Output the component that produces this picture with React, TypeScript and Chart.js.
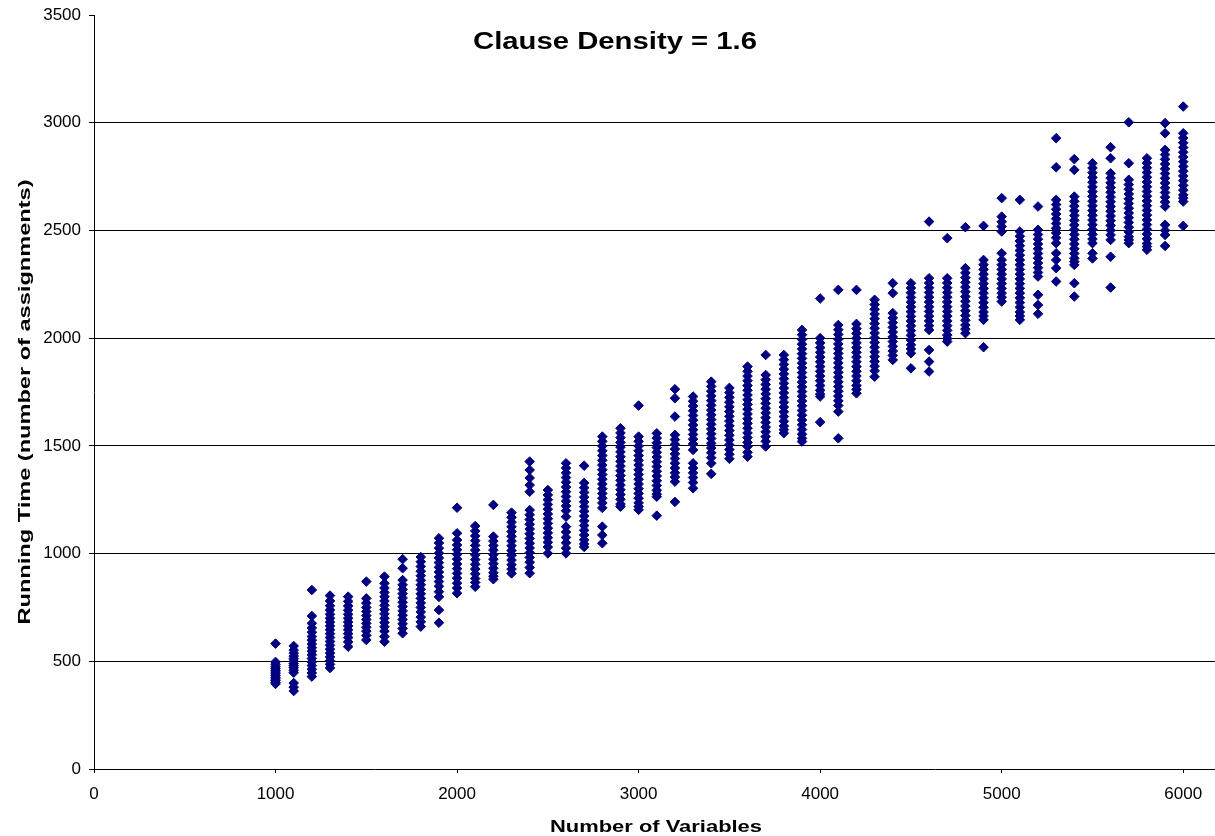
import React, { useEffect, useRef } from "react";
import { Chart, registerables } from "chart.js";

Chart.register(...registerables);

const chartTitle = "Clause Density = 1.6";
const xAxisTitle = "Number of Variables";
const yAxisTitle = "Running Time (number of assignments)";

const xTicks = [0, 1000, 2000, 3000, 4000, 5000, 6000];
const yTicks = [0, 500, 1000, 1500, 2000, 2500, 3000, 3500];

// Running time samples per number of variables
const rt1000 = [582, 497, 486, 475, 466, 458, 450, 442, 434, 426, 418, 410, 402, 395];
const rt1100 = [571, 552, 538, 524, 512, 500, 490, 480, 470, 458, 447, 399, 380, 362];
const rt1200 = [831, 710, 676, 655, 635, 615, 598, 580, 563, 547, 530, 513, 497, 480, 463, 446, 429];
const rt1300 = [805, 780, 758, 738, 718, 700, 682, 664, 646, 628, 610, 592, 574, 556, 538, 520, 503, 486, 469];
const rt1400 = [800, 778, 757, 737, 718, 700, 682, 664, 646, 628, 610, 590, 568];
const rt1500 = [870, 792, 770, 750, 731, 712, 694, 676, 658, 640, 620, 599];
const rt1600 = [893, 862, 840, 820, 800, 780, 760, 740, 720, 700, 680, 660, 640, 615, 591];
const rt1700 = [974, 932, 877, 855, 834, 814, 794, 774, 754, 734, 714, 694, 674, 652, 630];
const rt1800 = [984, 962, 940, 918, 897, 876, 855, 834, 813, 792, 771, 750, 729, 705, 683, 661];
const rt1900 = [1071, 1049, 1025, 1002, 980, 958, 936, 914, 892, 870, 848, 823, 799, 738, 679];
const rt2000 = [1213, 1094, 1063, 1040, 1018, 996, 974, 952, 930, 908, 886, 862, 840, 816];
const rt2100 = [1128, 1105, 1082, 1060, 1038, 1016, 994, 972, 950, 928, 906, 884, 866, 846];
const rt2200 = [1226, 1079, 1058, 1037, 1016, 995, 974, 953, 932, 911, 895, 881];
const rt2300 = [1190, 1168, 1146, 1124, 1102, 1080, 1058, 1036, 1014, 992, 970, 948, 928, 908];
const rt2400 = [1427, 1388, 1351, 1318, 1287, 1202, 1180, 1158, 1136, 1114, 1092, 1070, 1048, 1026, 1004, 982, 960, 935, 909];
const rt2500 = [1295, 1272, 1250, 1228, 1206, 1184, 1162, 1140, 1118, 1096, 1074, 1052, 1030, 1001];
const rt2600 = [1419, 1397, 1375, 1353, 1331, 1309, 1287, 1265, 1243, 1221, 1199, 1171, 1125, 1100, 1075, 1050, 1025, 1001];
const rt2700 = [1408, 1328, 1306, 1284, 1262, 1240, 1218, 1196, 1174, 1152, 1130, 1108, 1086, 1064, 1045, 1031];
const rt2800 = [1543, 1521, 1499, 1477, 1455, 1433, 1411, 1389, 1367, 1345, 1323, 1301, 1279, 1257, 1235, 1212, 1125, 1086, 1048];
const rt2900 = [1582, 1560, 1538, 1516, 1494, 1472, 1450, 1428, 1406, 1384, 1362, 1340, 1318, 1296, 1274, 1252, 1230, 1218];
const rt3000 = [1687, 1543, 1521, 1499, 1477, 1455, 1433, 1411, 1389, 1367, 1345, 1323, 1301, 1279, 1257, 1235, 1218, 1203];
const rt3100 = [1558, 1536, 1514, 1492, 1470, 1448, 1426, 1404, 1382, 1360, 1338, 1316, 1294, 1276, 1264, 1176];
const rt3200 = [1763, 1721, 1636, 1551, 1529, 1507, 1485, 1463, 1441, 1419, 1397, 1375, 1355, 1334, 1240];
const rt3300 = [1729, 1707, 1685, 1663, 1641, 1619, 1597, 1575, 1553, 1531, 1509, 1481, 1419, 1397, 1375, 1353, 1330, 1303];
const rt3400 = [1798, 1776, 1754, 1732, 1710, 1688, 1666, 1644, 1622, 1600, 1578, 1556, 1534, 1512, 1490, 1468, 1445, 1419, 1370];
const rt3500 = [1769, 1747, 1725, 1703, 1681, 1659, 1637, 1615, 1593, 1571, 1549, 1527, 1505, 1483, 1461, 1440];
const rt3600 = [1868, 1846, 1824, 1802, 1780, 1758, 1736, 1714, 1692, 1670, 1648, 1626, 1604, 1582, 1560, 1538, 1516, 1497, 1470, 1450];
const rt3700 = [1922, 1829, 1807, 1785, 1763, 1741, 1719, 1697, 1675, 1653, 1631, 1609, 1587, 1565, 1543, 1521, 1497];
const rt3800 = [1922, 1900, 1878, 1856, 1834, 1812, 1790, 1768, 1746, 1724, 1702, 1680, 1658, 1636, 1614, 1592, 1575, 1559];
const rt3900 = [2038, 2016, 1994, 1972, 1950, 1928, 1906, 1884, 1862, 1840, 1818, 1796, 1774, 1752, 1730, 1708, 1686, 1664, 1642, 1620, 1598, 1576, 1554, 1535, 1520];
const rt4000 = [2184, 2000, 1978, 1956, 1934, 1912, 1890, 1868, 1846, 1824, 1802, 1780, 1758, 1740, 1729, 1610];
const rt4100 = [2224, 2061, 2039, 2017, 1995, 1973, 1951, 1929, 1907, 1885, 1863, 1841, 1819, 1797, 1775, 1753, 1731, 1709, 1687, 1659, 1535];
const rt4200 = [2224, 2066, 2044, 2022, 2000, 1978, 1956, 1934, 1912, 1890, 1868, 1846, 1824, 1802, 1780, 1762, 1744];
const rt4300 = [2178, 2156, 2134, 2112, 2090, 2068, 2046, 2024, 2002, 1980, 1958, 1936, 1914, 1892, 1870, 1848, 1821];
const rt4400 = [2255, 2209, 2116, 2094, 2072, 2050, 2028, 2006, 1984, 1962, 1940, 1920, 1899];
const rt4500 = [2255, 2233, 2211, 2189, 2167, 2145, 2123, 2101, 2079, 2057, 2035, 2013, 1991, 1969, 1950, 1930, 1860];
const rt4600 = [2541, 2278, 2256, 2234, 2212, 2190, 2168, 2146, 2124, 2102, 2080, 2058, 2038, 1945, 1891, 1845];
const rt4700 = [2464, 2278, 2256, 2234, 2212, 2190, 2168, 2146, 2124, 2102, 2080, 2058, 2036, 2014, 1998, 1984];
const rt4800 = [2515, 2325, 2303, 2281, 2259, 2237, 2215, 2193, 2171, 2149, 2127, 2105, 2083, 2061, 2042, 2023];
const rt4900 = [2521, 2363, 2341, 2319, 2297, 2275, 2253, 2231, 2209, 2187, 2165, 2143, 2121, 2103, 2085, 1958];
const rt5000 = [2650, 2564, 2540, 2518, 2495, 2394, 2363, 2341, 2319, 2297, 2275, 2253, 2231, 2209, 2190, 2170];
const rt5100 = [2642, 2495, 2473, 2451, 2429, 2407, 2385, 2363, 2341, 2319, 2297, 2275, 2253, 2231, 2209, 2187, 2165, 2143, 2121, 2103, 2085];
const rt5200 = [2611, 2503, 2481, 2459, 2437, 2415, 2393, 2371, 2349, 2327, 2305, 2286, 2201, 2154, 2113];
const rt5300 = [2928, 2793, 2642, 2620, 2598, 2576, 2554, 2532, 2510, 2488, 2466, 2441, 2394, 2363, 2325, 2263];
const rt5400 = [2831, 2781, 2657, 2635, 2613, 2591, 2569, 2547, 2525, 2503, 2481, 2459, 2437, 2415, 2393, 2371, 2355, 2340, 2255, 2193];
const rt5500 = [2812, 2790, 2768, 2746, 2724, 2702, 2680, 2658, 2636, 2614, 2592, 2570, 2548, 2526, 2504, 2482, 2460, 2441, 2394, 2370];
const rt5600 = [2886, 2835, 2765, 2743, 2721, 2699, 2677, 2655, 2633, 2611, 2589, 2567, 2545, 2523, 2501, 2479, 2456, 2378, 2235];
const rt5700 = [3002, 2812, 2735, 2713, 2691, 2669, 2647, 2625, 2603, 2581, 2559, 2537, 2515, 2493, 2471, 2456, 2441];
const rt5800 = [2835, 2813, 2791, 2769, 2747, 2725, 2703, 2681, 2659, 2637, 2615, 2593, 2571, 2549, 2527, 2505, 2483, 2461, 2439, 2425, 2410];
const rt5900 = [2998, 2951, 2874, 2852, 2830, 2808, 2786, 2764, 2742, 2720, 2698, 2676, 2654, 2632, 2611, 2526, 2500, 2479, 2428];
const rt6000 = [3075, 2951, 2929, 2907, 2885, 2863, 2841, 2819, 2797, 2775, 2753, 2731, 2709, 2687, 2665, 2650, 2634, 2521];

const variableCounts = [
  1000, 1100, 1200, 1300, 1400, 1500, 1600, 1700, 1800, 1900,
  2000, 2100, 2200, 2300, 2400, 2500, 2600, 2700, 2800, 2900,
  3000, 3100, 3200, 3300, 3400, 3500, 3600, 3700, 3800, 3900,
  4000, 4100, 4200, 4300, 4400, 4500, 4600, 4700, 4800, 4900,
  5000, 5100, 5200, 5300, 5400, 5500, 5600, 5700, 5800, 5900, 6000,
];
const runningTimes = [
  rt1000, rt1100, rt1200, rt1300, rt1400, rt1500, rt1600, rt1700, rt1800, rt1900,
  rt2000, rt2100, rt2200, rt2300, rt2400, rt2500, rt2600, rt2700, rt2800, rt2900,
  rt3000, rt3100, rt3200, rt3300, rt3400, rt3500, rt3600, rt3700, rt3800, rt3900,
  rt4000, rt4100, rt4200, rt4300, rt4400, rt4500, rt4600, rt4700, rt4800, rt4900,
  rt5000, rt5100, rt5200, rt5300, rt5400, rt5500, rt5600, rt5700, rt5800, rt5900, rt6000,
];

const W = 1215;
const H = 836;

function drawFitted(
  ctx: CanvasRenderingContext2D,
  text: string,
  font: string,
  x: number,
  y: number,
  targetWidth: number,
  rotate: boolean
) {
  ctx.save();
  ctx.font = font;
  ctx.fillStyle = "#000";
  ctx.textAlign = "center";
  ctx.textBaseline = "alphabetic";
  const w = ctx.measureText(text).width;
  const sx = targetWidth / w;
  ctx.translate(x, y);
  if (rotate) ctx.rotate(-Math.PI / 2);
  ctx.scale(sx, 1);
  ctx.fillText(text, 0, 0);
  ctx.restore();
}

const titlesPlugin = {
  id: "titlesPlugin",
  afterDraw(chart: any) {
    const ctx = chart.ctx as CanvasRenderingContext2D;
    drawFitted(ctx, chartTitle, 'bold 23px "Liberation Sans", Arial, sans-serif', 615, 49, 284, false);
    drawFitted(ctx, xAxisTitle, 'bold 16px "Liberation Sans", Arial, sans-serif', 656, 832, 212, false);
    drawFitted(ctx, yAxisTitle, 'bold 17px "Liberation Sans", Arial, sans-serif', 30, 402, 445, true);
  },
};

export default function App() {
  const canvasRef = useRef<HTMLCanvasElement | null>(null);

  useEffect(() => {
    const canvas = canvasRef.current;
    if (!canvas) return;
    const points: { x: number; y: number }[] = [];
    variableCounts.forEach((n, i) => {
      runningTimes[i].forEach((t) => points.push({ x: n, y: t }));
    });

    const chart = new Chart(canvas, {
      type: "scatter",
      data: {
        datasets: [
          {
            data: points,
            pointStyle: "rectRot",
            pointRadius: 4.8,
            pointHoverRadius: 4.8,
            backgroundColor: "#000080",
            borderColor: "#000080",
            borderWidth: 1,
            clip: false,
          },
        ],
      },
      options: {
        responsive: false,
        animation: false,
        devicePixelRatio: 1,
        layout: { autoPadding: false, padding: { top: 15, left: 0, right: 0, bottom: 0 } },
        plugins: {
          legend: { display: false },
          title: { display: false },
          tooltip: { enabled: false },
        },
        scales: {
          x: {
            type: "linear",
            min: 0,
            max: 6175,
            afterBuildTicks: (scale: any) => {
              scale.ticks = xTicks.map((v) => ({ value: v }));
            },
            afterFit: (scale: any) => {
              scale.height = 67;
              scale.paddingLeft = 0;
              scale.paddingRight = 0;
            },
            ticks: {
              color: "#000",
              padding: 11,
              maxRotation: 0,
              autoSkip: false,
              font: { family: '"Liberation Sans", Arial, sans-serif', size: 17 },
              callback: (v: any) => String(v),
            },
            grid: {
              drawOnChartArea: false,
              drawTicks: true,
              tickLength: 4,
              tickColor: "#000",
              color: "#000",
            },
            border: { display: true, color: "#000", width: 1 },
          },
          y: {
            type: "linear",
            min: 0,
            max: 3500,
            afterBuildTicks: (scale: any) => {
              scale.ticks = yTicks.map((v) => ({ value: v }));
            },
            afterFit: (scale: any) => {
              scale.width = 94;
              scale.paddingTop = 0;
              scale.paddingBottom = 0;
            },
            ticks: {
              color: "#000",
              padding: 8,
              autoSkip: false,
              font: { family: '"Liberation Sans", Arial, sans-serif', size: 17 },
              callback: (v: any) => String(v),
            },
            grid: {
              drawTicks: true,
              tickLength: 5,
              tickColor: "#000",
              lineWidth: 1,
              color: (c: any) =>
                c.tick && (c.tick.value === 3500 || c.tick.value === 0) ? "rgba(0,0,0,0)" : "#000",
            },
            border: { display: true, color: "#000", width: 1 },
          },
        },
      },
      plugins: [titlesPlugin],
    });

    return () => chart.destroy();
  }, []);

  return (
    <div
      style={{
        position: "fixed",
        left: 0,
        top: 0,
        width: W,
        height: H,
        background: "#fff",
      }}
    >
      <canvas ref={canvasRef} width={W} height={H} style={{ width: W, height: H, display: "block" }} />
    </div>
  );
}
